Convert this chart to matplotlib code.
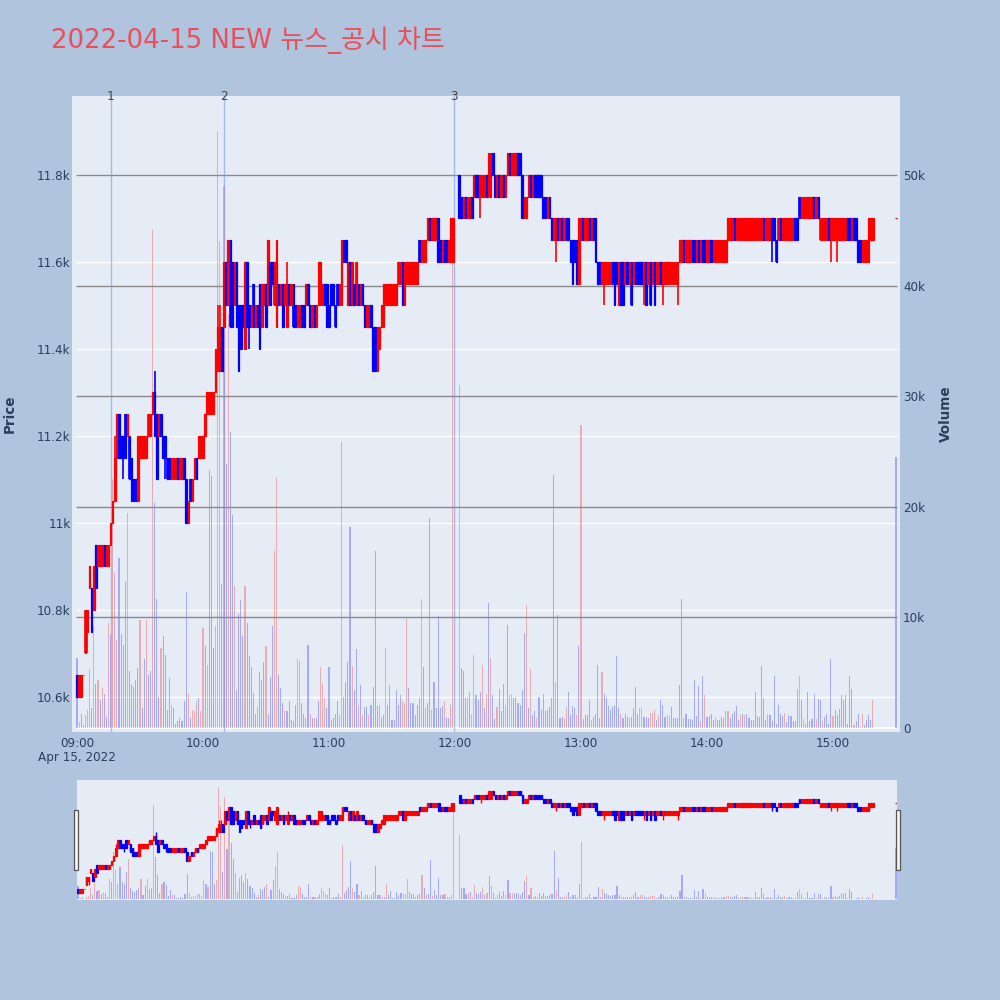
import matplotlib
matplotlib.use("Agg")
import matplotlib.pyplot as plt
from matplotlib.patches import Rectangle
import numpy as np

# ---------------- data ----------------
title = "2022-04-15 NEW 뉴스_공시 차트"
date_label = "Apr 15, 2022"
time_ticks = [0, 60, 120, 180, 240, 300, 360]          # minutes after 09:00
time_labels = ["09:00", "10:00", "11:00", "12:00", "13:00", "14:00", "15:00"]
price_ticks = [10600, 10800, 11000, 11200, 11400, 11600, 11800]
price_labels = ["10.6k", "10.8k", "11k", "11.2k", "11.4k", "11.6k", "11.8k"]
volume_ticks = [0, 10, 20, 30, 40, 50]                  # thousands
volume_labels = ["0", "10k", "20k", "30k", "40k", "50k"]
news_minutes = [16.0, 70.1, 179.7]
news_labels = ["1", "2", "3"]

N = None
opens = [
    10650, 10600, 10600, 10650, 10700, 10750, 10850, 10850, 10800, 10950,
    10900, 10900, 10900, 10950, 10900, 10900, 10950, 11000, 11050, 11150,
    11250, 11200, 11200, 11250, 11200, 11200, 11150, 11100, 11100, 11050,
    11150, 11150, 11150, 11150, 11200, 11200, 11250, 11300, 11250, 11200,
    11250, 11200, 11200, 11150, 11150, 11100, 11100, 11100, 11150, 11100,
    11100, 11150, 11100, 11000, 11100, 11050, 11100, 11150, 11150, 11150,
    11150, 11200, 11250, 11250, 11250, 11250, 11300, 11350, 11350, 11450,
    11450, 11600, 11500, 11650, 11600, 11500, 11600, 11500, 11500, 11500,
    11400, 11600, 11500, 11450, 11550, 11450, 11500, 11550, 11450, 11500,
    11550, 11500, 11600, 11600, 11500, 11450, 11550, 11500, 11550, 11500,
    11450, 11550, 11500, 11550, 11500, 11450, 11450, 11500, 11500, 11500,
    11550, 11500, 11450, 11500, 11450, 11500, 11500, 11500, 11550, 11550,
    11500, 11550, 11550, 11500, 11550, 11500, 11500, 11650, 11650, 11500,
    11600, 11500, 11550, 11500, 11550, 11500, 11550, 11500, 11450, 11450,
    11500, 11450, 11450, 11350, 11400, 11450, 11450, 11500, 11500, 11500,
    11500, 11500, 11500, 11550, 11550, 11600, 11500, 11550, 11550, 11550,
    11550, 11550, 11550, 11650, 11600, 11600, 11600, 11650, 11700, 11650,
    11650, 11650, 11700, 11650, 11600, 11650, 11650, 11600, 11600, 11600,
    N, N, 11800, 11750, 11700, 11750, 11700, 11700, 11750, 11750,
    11800, 11800, 11750, 11750, 11750, 11800, 11750, 11750, 11850, 11800,
    11750, 11800, 11750, 11800, 11750, 11800, 11850, 11800, 11800, 11800,
    11850, 11850, 11800, 11700, 11700, 11750, 11800, 11750, 11800, 11800,
    11800, 11800, 11750, 11750, 11700, 11750, 11700, 11650, 11650, 11700,
    11650, 11700, 11650, 11700, 11700, 11650, 11650, 11650, 11650, 11550,
    11650, 11700, 11650, 11650, 11700, 11650, 11700, 11700, 11600, 11600,
    11550, 11550, 11550, 11550, 11550, 11600, 11600, 11600, 11500, 11600,
    11600, 11550, 11600, 11550, 11600, 11550, 11600, 11600, 11600, 11600,
    11550, 11600, 11550, 11600, 11550, 11600, 11550, 11550, 11600, 11550,
    11550, 11550, 11550, 11550, 11550, 11550, 11550, 11600, 11600, 11650,
    11600, 11600, 11600, 11650, 11650, 11600, 11650, 11600, 11650, 11650,
    11600, 11600, 11650, 11600, 11600, 11600, 11600, 11600, 11600, 11600,
    11650, 11650, 11650, 11700, 11650, 11650, 11650, 11650, 11650, 11650,
    11650, 11650, 11650, 11650, 11650, 11650, 11650, 11700, 11650, 11650,
    11650, 11700, 11700, 11650, 11650, 11700, 11650, 11650, 11650, 11650,
    11650, 11650, 11700, 11700, 11750, 11700, 11700, 11700, 11700, 11700,
    11700, 11750, 11700, 11750, 11650, 11650, 11650, 11650, 11700, 11650,
    11650, 11650, 11650, 11650, 11650, 11650, 11650, 11700, 11700, 11650,
    11700, 11700, 11650, 11650, 11600, 11600, 11600, 11600, 11650, 11650,
    N, N, N, N, N, N, N, N, N, N,
    11700,
]
closes = [
    10600, 10650, 10650, 10650, 10800, 10800, 10900, 10750, 10900, 10850,
    10950, 10950, 10950, 10900, 10950, 10950, 11000, 11050, 11150, 11250,
    11150, 11150, 11150, 11150, 11250, 11100, 11050, 11050, 11050, 11200,
    11200, 11200, 11200, 11200, 11250, 11250, 11300, 11200, 11100, 11250,
    11200, 11150, 11150, 11100, 11100, 11150, 11150, 11150, 11100, 11150,
    11150, 11100, 11000, 11050, 11050, 11100, 11150, 11100, 11200, 11200,
    11200, 11250, 11300, 11300, 11300, 11300, 11400, 11450, 11450, 11350,
    11600, 11500, 11650, 11450, 11450, 11600, 11450, 11350, 11400, 11450,
    11600, 11450, 11450, 11500, 11450, 11500, 11450, 11400, 11550, 11550,
    11450, 11650, 11500, 11550, 11600, 11650, 11500, 11550, 11450, 11550,
    11550, 11500, 11550, 11450, 11450, 11500, 11500, 11450, 11450, 11550,
    11500, 11450, 11500, 11450, 11500, 11600, 11600, 11550, 11500, 11450,
    11450, 11500, 11500, 11450, 11500, 11550, 11650, 11600, 11600, 11600,
    11500, 11600, 11500, 11600, 11500, 11550, 11500, 11450, 11500, 11500,
    11450, 11350, 11350, 11450, 11450, 11500, 11550, 11550, 11550, 11550,
    11550, 11550, 11550, 11600, 11600, 11500, 11600, 11600, 11600, 11600,
    11600, 11600, 11600, 11600, 11650, 11650, 11650, 11700, 11650, 11700,
    11700, 11700, 11600, 11600, 11650, 11600, 11600, 11650, 11700, 11700,
    N, N, 11700, 11700, 11750, 11700, 11750, 11750, 11700, 11800,
    11750, 11750, 11800, 11800, 11800, 11750, 11850, 11850, 11800, 11750,
    11800, 11750, 11800, 11750, 11800, 11850, 11800, 11850, 11850, 11850,
    11800, 11800, 11700, 11750, 11750, 11800, 11750, 11800, 11750, 11750,
    11750, 11750, 11700, 11700, 11750, 11700, 11650, 11700, 11700, 11650,
    11700, 11650, 11700, 11650, 11650, 11600, 11550, 11600, 11550, 11700,
    11700, 11650, 11700, 11700, 11650, 11700, 11650, 11600, 11550, 11550,
    11600, 11600, 11600, 11600, 11600, 11550, 11500, 11550, 11600, 11500,
    11500, 11600, 11550, 11600, 11500, 11600, 11550, 11550, 11550, 11550,
    11600, 11500, 11600, 11500, 11600, 11500, 11600, 11600, 11550, 11600,
    11600, 11600, 11600, 11600, 11600, 11600, 11600, 11650, 11650, 11600,
    11650, 11650, 11650, 11600, 11600, 11650, 11600, 11650, 11600, 11600,
    11650, 11650, 11600, 11650, 11650, 11650, 11650, 11650, 11650, 11650,
    11700, 11700, 11700, 11650, 11700, 11700, 11700, 11700, 11700, 11700,
    11700, 11700, 11700, 11700, 11700, 11700, 11700, 11650, 11700, 11700,
    11700, 11650, 11650, 11600, 11700, 11650, 11700, 11700, 11700, 11700,
    11700, 11700, 11650, 11650, 11700, 11750, 11750, 11750, 11750, 11750,
    11750, 11700, 11750, 11700, 11700, 11700, 11700, 11700, 11650, 11700,
    11700, 11700, 11700, 11700, 11700, 11700, 11700, 11650, 11650, 11700,
    11650, 11650, 11600, 11600, 11650, 11650, 11650, 11700, 11700, 11700,
    N, N, N, N, N, N, N, N, N, N,
    11700,
]
wick_high = {18: 11200, 37: 11350, 67: 11500, 68: 11500, 100: 11600}
wick_low = {5: 10700, 22: 11100, 42: 11100, 82: 11400, 192: 11700, 228: 11600,
            251: 11500, 270: 11500, 279: 11500, 286: 11500, 331: 11600,
            359: 11600, 362: 11600}

volume_k = [
    6.3, 0.5, 1.3, 0.3, 1.2, 1.6, 5.3, 1.8, 9.2, 4.0,
    4.3, 2.5, 3.6, 3.1, 1.0, 9.5, 8.4, 22.5, 14.0, 8.0,
    15.4, 8.5, 7.5, 13.2, 19.4, 5.2, 4.0, 3.7, 4.3, 5.4,
    9.8, 1.8, 6.2, 9.8, 4.8, 5.2, 45.0, 20.3, 11.7, 2.8,
    7.2, 8.3, 6.6, 1.6, 4.5, 2.1, 1.8, 0.4, 0.6, 0.9,
    0.6, 2.4, 12.3, 3.1, 0.9, 1.6, 1.5, 2.4, 2.7, 1.5,
    9.0, 7.4, 5.7, 23.3, 22.8, 7.2, 9.2, 54.0, 44.0, 13.0,
    49.0, 23.9, 37.4, 26.8, 19.3, 12.8, 3.4, 10.3, 11.6, 8.3,
    12.8, 9.5, 6.5, 5.5, 3.2, 1.3, 1.9, 5.1, 4.3, 6.0,
    7.4, 1.3, 4.6, 9.2, 16.0, 22.7, 4.8, 3.6, 2.3, 1.6,
    1.5, 2.4, 0.7, 0.6, 2.1, 6.2, 6.1, 2.3, 1.3, 0.9,
    7.5, 1.3, 0.9, 0.9, 0.9, 2.4, 5.5, 4.0, 2.7, 1.8,
    5.5, 0.7, 0.9, 1.3, 2.4, 1.2, 25.9, 2.8, 4.2, 6.0,
    18.2, 5.6, 3.4, 7.1, 2.1, 3.9, 1.2, 1.9, 1.9, 1.2,
    2.1, 3.7, 16.0, 2.0, 2.1, 0.9, 1.2, 7.2, 2.1, 3.9,
    0.7, 0.7, 3.4, 2.1, 3.0, 2.4, 2.3, 9.9, 3.6, 2.3,
    2.3, 1.2, 2.1, 2.7, 11.7, 5.5, 1.8, 2.3, 19.0, 1.6,
    4.2, 1.8, 10.1, 1.8, 2.0, 2.4, 0.9, 0.9, 2.1, 42.0,
    N, N, 31.0, 5.4, 5.2, 2.7, 2.8, 3.3, 1.3, 6.6,
    3.0, 2.5, 3.3, 5.7, 1.8, 3.1, 11.3, 6.3, 3.0, 0.8,
    1.9, 3.5, 1.5, 4.0, 2.1, 9.3, 3.0, 3.1, 2.7, 2.8,
    2.3, 2.1, 3.4, 8.6, 11.1, 1.8, 5.3, 1.2, 1.5, 0.9,
    2.8, 1.6, 3.1, 1.5, 1.6, 1.9, 2.7, 22.9, 4.2, 10.2,
    0.9, 1.0, 0.9, 1.9, 3.3, 1.2, 2.0, 1.8, 1.2, 7.4,
    27.4, 0.8, 1.2, 1.2, 2.5, 0.7, 1.0, 1.3, 5.7, 0.9,
    5.1, 3.1, 2.7, 2.0, 1.6, 1.9, 2.1, 6.5, 1.8, 1.3,
    0.9, 1.3, 1.0, 0.9, 1.0, 1.8, 3.7, 1.3, 1.8, 1.8,
    1.0, 1.0, 0.9, 1.4, 1.4, 1.6, 0.7, 1.2, 2.5, 2.1,
    1.0, 1.2, 1.1, 1.9, 0.9, 0.9, 0.9, 3.9, 11.7, 0.9,
    1.3, 0.8, 0.8, 0.7, 4.3, 1.1, 3.8, 0.6, 4.7, 3.0,
    1.0, 1.1, 1.3, 0.7, 1.0, 0.7, 0.7, 1.0, 0.9, 1.5,
    1.5, 0.9, 1.3, 1.5, 2.0, 0.7, 1.2, 1.3, 1.2, 1.3,
    0.9, 0.7, 0.7, 3.3, 1.1, 1.0, 5.6, 2.7, 0.7, 1.3,
    1.2, 0.6, 4.7, 0.4, 2.1, 1.3, 1.1, 1.4, 0.5, 1.2,
    1.1, 0.6, 0.6, 3.5, 4.7, 2.5, 0.8, 0.4, 3.3, 0.6,
    0.8, 3.1, 0.8, 2.6, 2.5, 0.6, 1.0, 1.3, 0.4, 6.2,
    1.1, 1.6, 1.2, 1.7, 3.0, 2.5, 3.0, 0.4, 4.7, 3.5,
    0.3, 0.6, 1.3, 0.1, 1.3, 0.3, 0.7, 1.2, 0.7, 2.5,
    N, N, N, N, N, N, N, N, N, N,
    24.5,
]
volume_dir = "".join([
    "brbbrrrbrb", "rbrbbrbrrr", "bbbbrbbbbb", "rbbrbbrbbb", "rbbbbrbbbb",
    "bbbrbrrrbr", "rbrbbbrrrb", "rbrbbrbbbb", "rbbbbbrbbb", "rbbbrrbbbr",
    "bbbbbrrbbb", "brbrbbrrrb", "bbbbbrrbbb", "brbbrbrbbr", "bbbbrbbrbb",
    "bbbbbrrrbb", "bbbbrbrbbr", "bbbbbrbbrr", "--rbbbrbrr", "bbbrbrbrbb",
    "rbbbrbrrbb", "bbbbrbrbbr", "bbbbbbbbrb", "bbrrbbbbrb", "rbbbbrbbbb",
    "rbbbbbbbbr", "bbbrbbbbrr", "bbbrrrbrbb", "brrbbbbbbr", "bbbbbbbrbr",
    "bbbbrbbbbr", "rbbbbbrbrb", "bbbbbbbbbr", "bbbbbbbrbb", "bbbbrbrbbb",
    "bbrbbrbbbb", "rbbbbbbbbb", "rbbbrbbbbr", "----------", "b",
])

# ---------------- style ----------------
FIG_BG = "#b0c4de"
PLOT_BG = "#e5ecf6"
UP = "#ff0000"
DOWN = "#0000ff"
TXT = "#2a3f5f"
PX = 0.72  # points per pixel at dpi 100

plt.rcParams["font.family"] = ["DejaVu Sans", "Noto Sans CJK KR"]

o = np.array([np.nan if v is None else v for v in opens], float)
c = np.array([np.nan if v is None else v for v in closes], float)
x = np.arange(len(o))
valid = ~np.isnan(o)
up = c >= o
top = np.fmax(o, c)
bot = np.fmin(o, c)
high = top.copy()
low = bot.copy()
for k, v in wick_high.items():
    high[k] = v
for k, v in wick_low.items():
    low[k] = v
ccol = np.where(up, UP, DOWN)

vol = np.array([np.nan if v is None else v for v in volume_k], float)
vvalid = ~np.isnan(vol)
vcol = [(1, 0, 0, 0.28) if d == "r" else (0, 0, 1, 0.28) for d in volume_dir]
vcol = [vcol[i] for i in range(len(vcol)) if vvalid[i]]

PRICE_LIM = (10519.5, 11981.6)
VOL_LIM = (-0.36, 57.14)


def draw_volume(ax, width):
    ax.bar(x[vvalid], vol[vvalid], width=width, color=vcol, linewidth=0, zorder=2)


def draw_candles(ax, body_w, edge_lw, wick_lw):
    ax.vlines(x[valid], low[valid], high[valid], colors=ccol[valid],
              linewidth=wick_lw, zorder=4)
    ax.bar(x[valid], (top - bot)[valid], bottom=bot[valid], width=body_w,
           color=ccol[valid], edgecolor=ccol[valid], linewidth=edge_lw, zorder=5)


fig = plt.figure(figsize=(10, 10), dpi=100, facecolor=FIG_BG)

# ---------------- main chart ----------------
rect = [0.072, 0.268, 0.828, 0.636]
ax_p = fig.add_axes(rect)
ax_p.set_facecolor(PLOT_BG)
ax_p.set_ylim(*PRICE_LIM)
ax_p.hlines(price_ticks, -0.5, 390.5, colors="white", linewidth=1.0, zorder=1)

ax_v = ax_p.twinx()
ax_v.set_ylim(*VOL_LIM)
draw_volume(ax_v, 0.55)
ax_v.hlines([0], -0.5, 390.5, colors="white", linewidth=1.3, zorder=1)
ax_v.hlines(volume_ticks[1:], -0.5, 390.5, colors="#8a8a8a", linewidth=1.0,
            zorder=3)

ax_c = ax_p.twinx()
ax_c.set_ylim(*PRICE_LIM)
for m, lab in zip(news_minutes, news_labels):
    ax_c.axvline(m, color="#6f8ff0", alpha=0.55, linewidth=1.0, zorder=3)
    ax_c.text(m, 1.0, lab, transform=ax_c.get_xaxis_transform(), ha="center",
              va="center", fontsize=12 * PX, color="#444444", zorder=6)
draw_candles(ax_c, 0.75, 0.9, 1.2)

for a in (ax_p, ax_v, ax_c):
    for s in a.spines.values():
        s.set_visible(False)

ax_p.set_xticks(time_ticks)
ax_p.set_xticklabels(time_labels)
ax_p.set_xlim(-2.38, 391.9)
ax_p.set_yticks(price_ticks)
ax_p.set_yticklabels(price_labels)
ax_p.tick_params(axis="x", length=0, pad=3.5, labelsize=12 * PX, labelcolor=TXT)
ax_p.tick_params(axis="y", length=0, pad=1.0, labelsize=12 * PX, labelcolor=TXT)
ax_v.set_yticks(volume_ticks)
ax_v.set_yticklabels(volume_labels)
ax_v.tick_params(axis="y", length=0, pad=2.2, labelsize=12 * PX, labelcolor=TXT)
ax_c.set_yticks([])
ax_c.tick_params(axis="y", length=0, labelright=False)

fig.text(0.077, 1 - 0.758, date_label, ha="center", va="center",
         fontsize=12 * PX, color=TXT)
fig.text(0.010, 1 - 0.414, "Price", rotation=90, ha="center", va="center",
         fontsize=13.5 * PX, color=TXT, fontweight="bold")
fig.text(0.946, 1 - 0.414, "Volume", rotation=90, ha="center", va="center",
         fontsize=13.5 * PX, color=TXT, fontweight="bold")
fig.text(0.051, 1 - 0.040, title, ha="left", va="center", fontsize=26 * PX,
         color="#e8505e", family=["DejaVu Sans", "Noto Sans CJK KR"])

# ---------------- range slider ----------------
ax_s = fig.add_axes([0.077, 0.100, 0.820, 0.120])
ax_s.set_facecolor(PLOT_BG)
ax_s.set_ylim(*PRICE_LIM)
ax_sv = ax_s.twinx()
ax_sv.set_ylim(*VOL_LIM)
draw_volume(ax_sv, 0.55)
ax_sc = ax_s.twinx()
ax_sc.set_ylim(*PRICE_LIM)
draw_candles(ax_sc, 0.75, 0.9, 1.0)
for a in (ax_s, ax_sv, ax_sc):
    a.set_xticks([])
    a.set_yticks([])
    for s in a.spines.values():
        s.set_visible(False)
ax_s.set_xlim(-0.5, 390.5)

for hx in (0.0735, 0.8955):
    fig.patches.append(Rectangle((hx, 0.130), 0.0040, 0.060,
                                 transform=fig.transFigure, facecolor="#f4f4f4",
                                 edgecolor="#555555", linewidth=0.9, zorder=10))

fig.savefig("out.png", dpi=100, facecolor=FIG_BG)
